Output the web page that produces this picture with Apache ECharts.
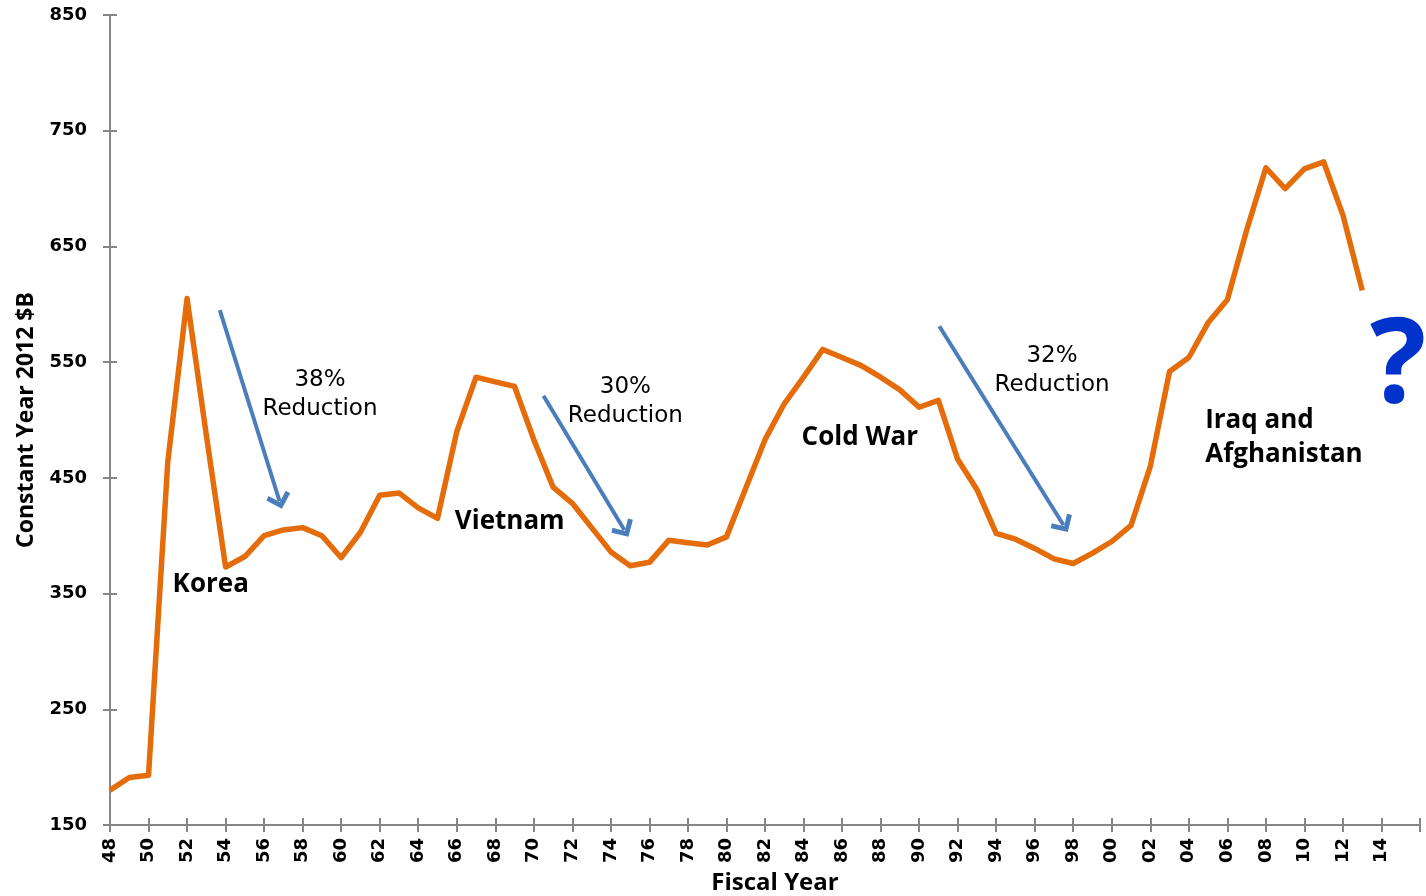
<!DOCTYPE html>
<html><head><meta charset="utf-8">
<script src="https://cdn.jsdelivr.net/npm/echarts@6/dist/echarts.min.js"></script>
<style>html,body{margin:0;padding:0;background:#fff}#c{width:1426px;height:896px}</style>
</head><body><div id="c"></div>
<script>
const years = [];
for (let y = 1948; y <= 2013; y++) years.push(y);
const spending = [180,191,193,464,605,487,373,382,400,405,407,400,381,403,435,437,424,415,490,537,
  533,529,483,442,428,407,386,374,377,396,394,392,399,441,483,514,537,561,554,547,537,526,511,517,
  466,440,402,397,389,380,376,385,395,409,460,542,554,584,604,664,718,700,717,723,677,612];
const yTicks = {min:150, max:850, interval:100};
const xTicks = {min:1948, max:2016, interval:2};
const arrows = [
  [[1953.7,595],[1956.8,430]],
  [[1970.5,521],[1974.7,405]],
  [[1991.05,581],[1997.5,409]]
];
const reductions = [
  {pct:'38%', coord:[1958.9,522]},
  {pct:'30%', coord:[1974.75,516]},
  {pct:'32%', coord:[1996.9,543]}
];
const eras = [
  {name:'Korea', coord:[1951.25,358]},
  {name:'Vietnam', coord:[1965.9,412]},
  {name:'Cold War', coord:[1983.9,485]},
  {name:'Iraq and\nAfghanistan', coord:[2004.85,485]}
];
const BLUE = '#4A7EBB';
const chart = echarts.init(document.getElementById('c'));
const arrowPath = 'path://M10,0 L20,10 L17.2,13 L10,5.6 L2.8,13 L0,10 Z';
chart.setOption({
  backgroundColor:'#fff',
  animation:false,
  grid:{left:110,right:6,top:15,bottom:71,containLabel:false,outerBoundsMode:'none'},
  xAxis:[{
    type:'value', min:xTicks.min, max:xTicks.max, interval:xTicks.interval,
    name:'Fiscal Year', nameLocation:'middle', nameGap:44,
    nameTextStyle:{fontFamily:'Open Sans',fontWeight:'bold',fontSize:24,color:'#000',padding:[0,0,0,20]},
    axisLine:{lineStyle:{color:'#868686',width:2}},
    axisTick:{length:7,lineStyle:{color:'#868686',width:2}},
    splitLine:{show:false},
    axisLabel:{rotate:90,margin:13,color:'#000',fontFamily:'DejaVu Sans',fontWeight:'bold',fontSize:18,
      formatter:v=> v===2016?'':String(v%100).padStart(2,'0')}
  },{
    type:'value', min:xTicks.min, max:xTicks.max, interval:xTicks.interval, position:'bottom',
    axisLine:{show:false}, axisLabel:{show:false}, splitLine:{show:false},
    axisTick:{inside:true,length:7,lineStyle:{color:'#868686',width:2}}
  }],
  yAxis:[{
    type:'value', min:yTicks.min, max:yTicks.max, interval:yTicks.interval,
    name:'Constant Year 2012 $B', nameLocation:'middle', nameGap:72, nameRotate:90,
    nameTextStyle:{fontFamily:'Open Sans',fontWeight:'bold',fontSize:23,color:'#000'},
    axisLine:{show:true,lineStyle:{color:'#868686',width:2}},
    axisTick:{show:true,length:7,lineStyle:{color:'#868686',width:2}},
    splitLine:{show:false},
    axisLabel:{margin:23,color:'#000',fontFamily:'DejaVu Sans',fontWeight:'bold',fontSize:18}
  },{
    type:'value', min:yTicks.min, max:yTicks.max, interval:yTicks.interval, position:'left',
    axisLine:{show:false}, axisLabel:{show:false}, splitLine:{show:false},
    axisTick:{show:true,inside:true,length:7,lineStyle:{color:'#868686',width:2}}
  }],
  series:[{
    type:'line',
    data: years.map((y,i)=>[y,spending[i]]),
    showSymbol:false, symbol:'none',
    lineStyle:{color:'#E46C0A',width:5.5,join:'round'},
    itemStyle:{color:'#E46C0A'},
    markLine:{
      silent:true, animation:false,
      symbol:['none',arrowPath], symbolSize:[25,16],
      lineStyle:{color:BLUE,width:4,type:'solid'},
      itemStyle:{color:BLUE},
      label:{show:false},
      data: arrows.map(a=>[{coord:a[0]},{coord:a[1]}])
    },
    markPoint:{
      silent:true, symbol:'circle', symbolSize:0, animation:false,
      data:[
        ...reductions.map(r=>({coord:r.coord, label:{show:true,formatter:r.pct+'\nReduction',position:'inside',
          color:'#000',fontFamily:'DejaVu Sans',fontSize:23,lineHeight:29,align:'center'}})),
        ...eras.map(e=>({coord:e.coord, label:{show:true,formatter:e.name,position:'inside',
          align:'left',color:'#000',fontFamily:'Open Sans',fontWeight:'bold',fontSize:26,lineHeight:34}})),
        {coord:[2014.87,545], label:{show:true,formatter:'?',position:'inside',color:'#0033CC',fontFamily:'Open Sans',
          fontWeight:'bold',fontSize:118,align:'center'}}
      ]
    }
  }]
});
</script></body></html>
